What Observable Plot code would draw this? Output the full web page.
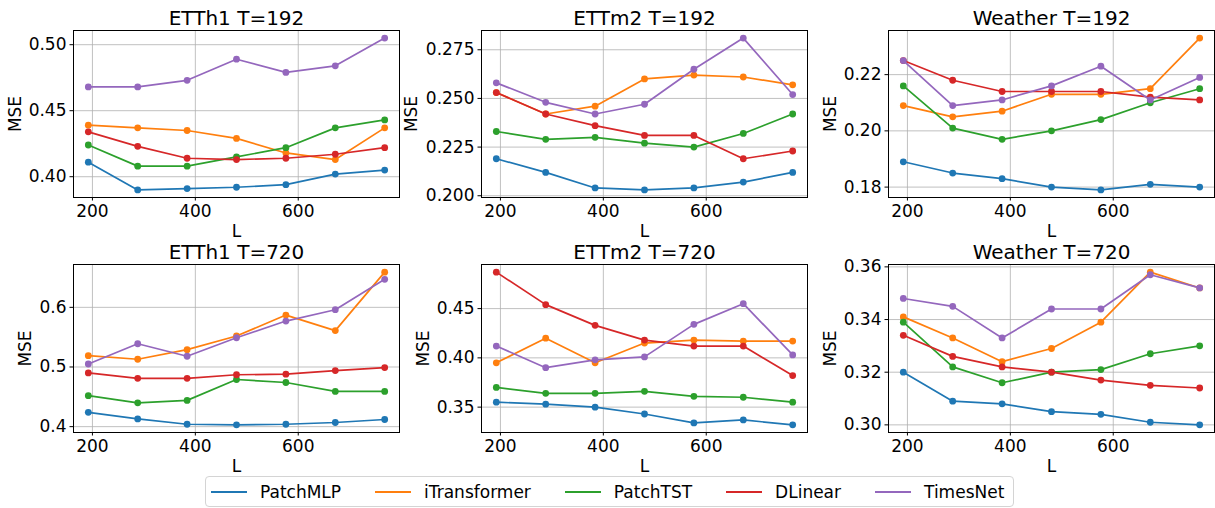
<!DOCTYPE html>
<html><head><meta charset="utf-8">
<script src="https://cdn.jsdelivr.net/npm/d3@7"></script>
<script src="https://cdn.jsdelivr.net/npm/@observablehq/plot@0.6"></script>
<style>
html,body{margin:0;padding:0;background:#fff;}
#root{position:relative;width:1215px;height:508px;font-family:"DejaVu Sans",sans-serif;color:#000;}
.panel{position:absolute;}
#legend{position:absolute;left:205px;top:476px;width:802px;height:29px;border:1px solid #d4d4d4;border-radius:4px;display:flex;align-items:center;padding-left:5px;font-size:17px;font-family:"DejaVu Sans",sans-serif;box-sizing:content-box;background:#fff;}
.item{display:flex;align-items:center;margin-right:34px;white-space:nowrap;}
.swatch{display:inline-block;width:36px;height:2px;margin-right:13px;}
</style></head><body><div id="root"></div>
<script>
const L = [192, 288, 384, 480, 576, 672, 768];
const models = ["PatchMLP", "iTransformer", "PatchTST", "DLinear", "TimesNet"];
const colors = ["#1f77b4", "#ff7f0e", "#2ca02c", "#d62728", "#9467bd"];
const titles = ["ETTh1 T=192", "ETTm2 T=192", "Weather T=192", "ETTh1 T=720", "ETTm2 T=720", "Weather T=720"];
const xTicks = [200, 400, 600];

// rows: PatchMLP, iTransformer, PatchTST, DLinear, TimesNet
const etth1_192 = [
  [0.411, 0.390, 0.391, 0.392, 0.394, 0.402, 0.405],
  [0.439, 0.437, 0.435, 0.429, 0.418, 0.413, 0.437],
  [0.424, 0.408, 0.408, 0.415, 0.422, 0.437, 0.443],
  [0.434, 0.423, 0.414, 0.413, 0.414, 0.417, 0.422],
  [0.468, 0.468, 0.473, 0.489, 0.479, 0.484, 0.505]
];
const ettm2_192 = [
  [0.219, 0.212, 0.204, 0.203, 0.204, 0.207, 0.212],
  [0.253, 0.242, 0.246, 0.260, 0.262, 0.261, 0.257],
  [0.233, 0.229, 0.230, 0.227, 0.225, 0.232, 0.242],
  [0.253, 0.242, 0.236, 0.231, 0.231, 0.219, 0.223],
  [0.258, 0.248, 0.242, 0.247, 0.265, 0.281, 0.252]
];
const weather_192 = [
  [0.189, 0.185, 0.183, 0.180, 0.179, 0.181, 0.180],
  [0.209, 0.205, 0.207, 0.213, 0.213, 0.215, 0.233],
  [0.216, 0.201, 0.197, 0.200, 0.204, 0.210, 0.215],
  [0.225, 0.218, 0.214, 0.214, 0.214, 0.212, 0.211],
  [0.225, 0.209, 0.211, 0.216, 0.223, 0.211, 0.219]
];
const etth1_720 = [
  [0.424, 0.413, 0.404, 0.403, 0.404, 0.407, 0.412],
  [0.519, 0.513, 0.529, 0.552, 0.587, 0.561, 0.659],
  [0.452, 0.440, 0.444, 0.479, 0.474, 0.459, 0.459],
  [0.490, 0.481, 0.481, 0.487, 0.488, 0.494, 0.499],
  [0.505, 0.539, 0.518, 0.549, 0.577, 0.596, 0.647]
];
const ettm2_720 = [
  [0.355, 0.353, 0.350, 0.343, 0.334, 0.337, 0.332],
  [0.395, 0.420, 0.395, 0.415, 0.418, 0.417, 0.417],
  [0.370, 0.364, 0.364, 0.366, 0.361, 0.360, 0.355],
  [0.487, 0.454, 0.433, 0.418, 0.412, 0.412, 0.382],
  [0.412, 0.390, 0.398, 0.401, 0.434, 0.455, 0.403]
];
const weather_720 = [
  [0.320, 0.309, 0.308, 0.305, 0.304, 0.301, 0.300],
  [0.341, 0.333, 0.324, 0.329, 0.339, 0.358, 0.352],
  [0.339, 0.322, 0.316, 0.320, 0.321, 0.327, 0.330],
  [0.334, 0.326, 0.322, 0.320, 0.317, 0.315, 0.314],
  [0.348, 0.345, 0.333, 0.344, 0.344, 0.357, 0.352]
];

const yTicks = [
  [0.40, 0.45, 0.50],
  [0.200, 0.225, 0.250, 0.275],
  [0.18, 0.20, 0.22],
  [0.4, 0.5, 0.6],
  [0.35, 0.40, 0.45],
  [0.30, 0.32, 0.34, 0.36]
];
const yFormats = [".2f", ".3f", ".2f", ".1f", ".2f", ".2f"];
const panelData = [etth1_192, ettm2_192, weather_192, etth1_720, ettm2_720, weather_720];

// layout (not data)
const layout = [
  {left: 0,   top: 0,   ml: 73, mr: 6, mb: 37, ydx: -57.5},
  {left: 405, top: 0,   ml: 76, mr: 3, mb: 37, ydx: -69.5},
  {left: 810, top: 0,   ml: 78, mr: 1, mb: 37, ydx: -58},
  {left: 0,   top: 234, ml: 73, mr: 6, mb: 36, ydx: -47.5},
  {left: 405, top: 234, ml: 76, mr: 3, mb: 36, ydx: -58},
  {left: 810, top: 234, ml: 78, mr: 1, mb: 36, ydx: -58}
];

const root = document.getElementById("root");

function pad(ext) {
  const d = (ext[1] - ext[0]) * 0.05;
  return [ext[0] - d, ext[1] + d];
}

panelData.forEach((series, p) => {
  const lay = layout[p];
  const rows = [];
  series.forEach((vals, s) => vals.forEach((v, i) => rows.push({L: L[i], mse: v, model: models[s], s})));
  const yDomain = pad(d3.extent(rows, d => d.mse));
  const xDomain = pad(d3.extent(L));
  const marks = [
    Plot.gridX(xTicks, {stroke: "#b0b0b0", strokeOpacity: 1, strokeWidth: 0.8}),
    Plot.gridY(yTicks[p], {stroke: "#b0b0b0", strokeOpacity: 1, strokeWidth: 0.8})
  ];
  models.forEach((m, s) => {
    const sub = rows.filter(d => d.s === s);
    marks.push(Plot.line(sub, {x: "L", y: "mse", stroke: colors[s], strokeWidth: 1.7}));
    marks.push(Plot.dot(sub, {x: "L", y: "mse", fill: colors[s], r: 3.4, stroke: "none"}));
  });
  marks.push(
    Plot.frame({stroke: "#000", strokeWidth: 1}),
    Plot.axisX({ticks: xTicks, tickSize: 3.5, tickPadding: 3.5, label: null, stroke: "#000"}),
    Plot.axisY({ticks: yTicks[p], tickFormat: d3.format(yFormats[p]), tickSize: 3.5, tickPadding: 3.5, label: null, stroke: "#000"}),
    Plot.text([titles[p]], {text: d => d, frameAnchor: "top", dy: -12, lineAnchor: "middle", fontSize: 20, fill: "#000"}),
    Plot.text(["L"], {text: d => d, frameAnchor: "bottom", dy: 34, lineAnchor: "middle", fontSize: 17, fill: "#000"}),
    Plot.text(["MSE"], {text: d => d, frameAnchor: "left", dx: lay.ydx, rotate: -90, textAnchor: "middle", lineAnchor: "middle", fontSize: 17, fill: "#000"})
  );
  const chart = Plot.plot({
    width: 405,
    height: 234,
    marginLeft: lay.ml,
    marginRight: lay.mr,
    marginTop: 30,
    marginBottom: lay.mb,
    style: {fontFamily: "DejaVu Sans", fontSize: "17px", background: "transparent", color: "#000", overflow: "visible"},
    x: {domain: xDomain},
    y: {domain: yDomain},
    marks
  });
  const div = document.createElement("div");
  div.className = "panel";
  div.style.left = lay.left + "px";
  div.style.top = lay.top + "px";
  div.appendChild(chart);
  root.appendChild(div);
});

const legend = document.createElement("div");
legend.id = "legend";
models.forEach((m, s) => {
  const item = document.createElement("div");
  item.className = "item";
  const sw = document.createElement("span");
  sw.className = "swatch";
  sw.style.background = colors[s];
  const t = document.createElement("span");
  t.textContent = m;
  item.appendChild(sw);
  item.appendChild(t);
  legend.appendChild(item);
});
root.appendChild(legend);
</script>
</body></html>
